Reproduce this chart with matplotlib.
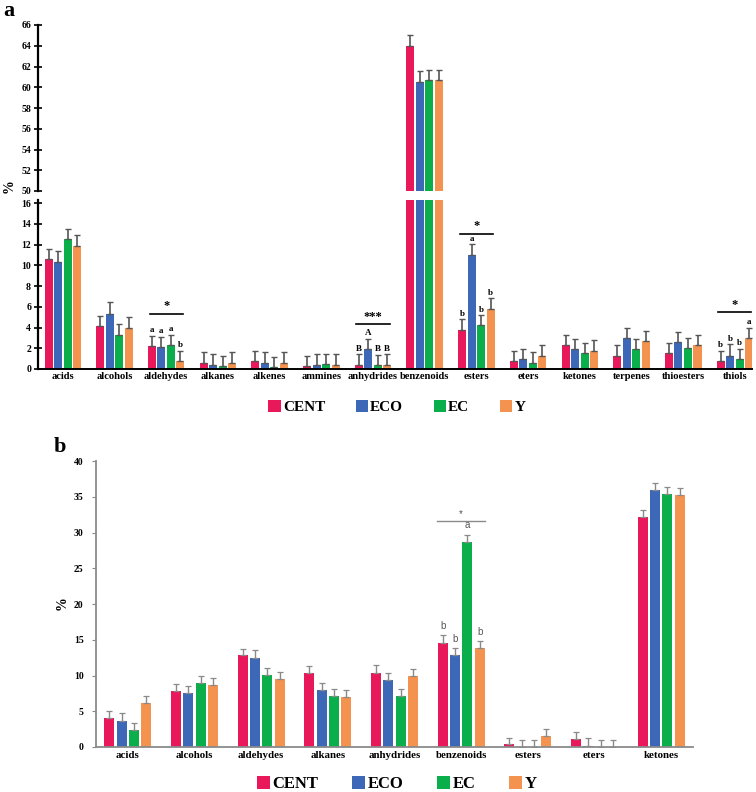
import matplotlib
matplotlib.use('Agg')
import matplotlib.pyplot as plt
import numpy as np
from matplotlib.patches import Patch

plt.rcParams['font.family'] = ['Liberation Serif', 'DejaVu Serif']

groups = ['CENT', 'ECO', 'EC', 'Y']
colors = ['#E8185A', '#3D68B8', '#0AAF4C', '#F4924F']

# ---------------- panel a data ----------------
cats_a = ['acids', 'alcohols', 'aldehydes', 'alkanes', 'alkenes', 'ammines', 'anhydrides',
          'benzenoids', 'esters', 'eters', 'ketones', 'terpenes', 'thioesters', 'thiols']
a_cent = [10.6, 4.1, 2.2, 0.6, 0.75, 0.3, 0.4, 64.0, 3.8, 0.75, 2.3, 1.3, 1.55, 0.75]
a_eco = [10.3, 5.35, 2.1, 0.4, 0.6, 0.4, 1.9, 60.5, 10.95, 0.95, 1.9, 3.0, 2.6, 1.3]
a_ec = [12.5, 3.3, 2.3, 0.3, 0.2, 0.5, 0.35, 60.7, 4.2, 0.6, 1.5, 1.9, 2.0, 0.95]
a_y = [11.9, 4.0, 0.75, 0.6, 0.6, 0.4, 0.4, 60.7, 5.8, 1.3, 1.75, 2.7, 2.3, 3.0]
a_cent_err = [1.0, 1.0, 1.0, 1.0, 1.0, 1.0, 1.0, 1.0, 1.0, 1.0, 1.0, 1.0, 1.0, 1.0]
a_eco_err = [1.1, 1.15, 1.0, 1.0, 1.0, 1.0, 1.0, 1.1, 1.1, 1.0, 0.95, 1.0, 1.0, 1.1]
a_ec_err = [1.0, 1.0, 1.0, 1.0, 1.0, 0.9, 1.0, 1.0, 1.0, 1.0, 1.0, 1.0, 1.0, 1.0]
a_y_err = [1.0, 1.0, 1.0, 1.0, 1.0, 1.0, 1.0, 1.0, 1.0, 1.0, 1.0, 1.0, 1.0, 0.95]

# significance annotations for panel a: category index, stars, letters, line height
sig_a_idx = [2, 6, 8, 13]
sig_a_stars = ['*', '***', '*', '*']
sig_a_letters = [['a', 'a', 'a', 'b'], ['B', 'A', 'B', 'B'], ['b', 'a', 'b', 'b'], ['b', 'b', 'b', 'a']]
sig_a_line = [5.3, 4.3, 13.05, 5.45]

# ---------------- panel b data ----------------
cats_b = ['acids', 'alcohols', 'aldehydes', 'alkanes', 'anhydrides', 'benzenoids',
          'esters', 'eters', 'ketones']
b_cent = [4.1, 7.9, 12.8, 10.4, 10.4, 14.6, 0.35, 1.05, 32.1]
b_eco = [3.7, 7.6, 12.4, 8.0, 9.35, 12.8, 0.0, 0.1, 35.9]
b_ec = [2.4, 8.9, 10.1, 7.1, 7.1, 28.7, 0.0, 0.0, 35.4]
b_y = [6.2, 8.7, 9.5, 7.0, 9.9, 13.8, 1.5, 0.0, 35.2]
b_cent_err = [1.0, 0.95, 0.95, 0.9, 1.0, 1.0, 0.95, 1.0, 1.0]
b_eco_err = [1.0, 1.0, 1.1, 1.0, 1.05, 1.0, 0.93, 1.1, 1.05]
b_ec_err = [1.0, 1.0, 1.0, 1.05, 1.05, 1.0, 0.93, 0.93, 0.95]
b_y_err = [1.0, 1.0, 1.05, 0.95, 1.0, 1.0, 1.0, 0.93, 1.0]

sig_b_idx = [5]
sig_b_stars = ['*']
sig_b_letters = [['b', 'b', 'a', 'b']]
sig_b_line = [31.6]

W, H = 756, 792
fig = plt.figure(figsize=(W / 100, H / 100), dpi=100)


def px_axes(left, top, right, bottom):
    return fig.add_axes([left / W, 1 - bottom / H, (right - left) / W, (bottom - top) / H])


vals_a = [a_cent, a_eco, a_ec, a_y]
errs_a = [a_cent_err, a_eco_err, a_ec_err, a_y_err]
vals_b = [b_cent, b_eco, b_ec, b_y]
errs_b = [b_cent_err, b_eco_err, b_ec_err, b_y_err]

# ---------------- panel a ----------------
ax_top = px_axes(38, 25, 752, 191)
ax_bot = px_axes(38, 200, 752, 369)
xa = np.arange(len(cats_a))
step_a, width_a = 0.184, 0.155
for ax in (ax_top, ax_bot):
    for g in range(4):
        ax.bar(xa + (g - 1.5) * step_a, vals_a[g], width_a, color=colors[g],
               yerr=[np.zeros(len(xa)), errs_a[g]], ecolor='#555555',
               error_kw=dict(elinewidth=1.2, capsize=2, capthick=1.0), zorder=2)
    ax.set_xlim(-0.48, 13.33)
    for s in ('top', 'right'):
        ax.spines[s].set_visible(False)
    ax.spines['left'].set_linewidth(1.6)
    ax.tick_params(axis='y', direction='inout', length=6, width=1.2, labelsize=7, pad=2)

ax_top.set_ylim(50, 66)
ax_top.set_yticks(np.arange(50, 67, 2))
ax_top.spines['bottom'].set_visible(False)
ax_top.set_xticks([])
ax_bot.set_ylim(0, 16.3)
ax_bot.set_yticks(np.arange(0, 17, 2))
ax_bot.spines['bottom'].set_linewidth(1.4)
ax_bot.set_xticks(xa)
ax_bot.set_xticklabels(cats_a, fontsize=7.6, fontweight='bold')
ax_bot.tick_params(axis='x', length=0, pad=2)
for ax in (ax_top, ax_bot):
    for lab in ax.get_yticklabels():
        lab.set_fontweight('bold')

for idx, st, lets, ly in zip(sig_a_idx, sig_a_stars, sig_a_letters, sig_a_line):
    for g in range(4):
        top = vals_a[g][idx] + errs_a[g][idx]
        ax_bot.text(idx + (g - 1.5) * step_a, top + 0.15, lets[g], ha='center', va='bottom',
                    fontsize=6.5, fontweight='bold')
    ax_bot.plot([idx - 0.32, idx + 0.32], [ly, ly], color='black', lw=1.2)
    ax_bot.text(idx, ly + 0.15, st, ha='center', va='bottom', fontsize=9, fontweight='bold')

fig.text(9 / W, 1 - 1 / H, 'a', fontsize=16, fontweight='bold', ha='center', va='top')
fig.text(9 / W, 1 - 186 / H, '%', fontsize=10, fontweight='bold', rotation=90,
         ha='center', va='center')

handles = [Patch(facecolor=c, edgecolor='none') for c in colors]
fig.legend(handles, groups, loc='center', bbox_to_anchor=(0.525, 1 - 407 / H), ncol=4,
           frameon=False, prop=dict(family='Liberation Serif', weight='bold', size=11),
           handlelength=0.8, handleheight=0.8, handletextpad=0.15, columnspacing=2.0)

# ---------------- panel b ----------------
axb = px_axes(96, 461, 693, 747)
xb = np.arange(len(cats_b))
step_b, width_b = 0.185, 0.15
for g in range(4):
    axb.bar(xb + (g - 1.5) * step_b, vals_b[g], width_b, color=colors[g],
            yerr=[np.zeros(len(xb)), errs_b[g]], ecolor='#8a8a8a',
            error_kw=dict(elinewidth=1.0, capsize=2, capthick=0.9), zorder=2)
axb.set_xlim(-0.48, 8.48)
axb.set_ylim(0, 40)
axb.set_yticks(np.arange(0, 41, 5))
for s in ('top', 'right'):
    axb.spines[s].set_visible(False)
for s in ('left', 'bottom'):
    axb.spines[s].set_color('#8a8a8a')
    axb.spines[s].set_linewidth(1.3)
axb.tick_params(axis='y', direction='out', length=3, width=0.8, color='#8a8a8a',
                labelsize=7, pad=6)
axb.set_xticks(xb)
axb.set_xticklabels(cats_b, fontsize=7.8, fontweight='bold')
axb.tick_params(axis='x', length=0, pad=3)
for lab in axb.get_yticklabels():
    lab.set_fontweight('bold')

for idx, st, lets, ly in zip(sig_b_idx, sig_b_stars, sig_b_letters, sig_b_line):
    for g in range(4):
        top = vals_b[g][idx] + errs_b[g][idx]
        axb.text(idx + (g - 1.5) * step_b, top + 0.6, lets[g], ha='center', va='bottom',
                 fontsize=7, family='Liberation Sans', color='#555555')
    axb.plot([idx - 0.36, idx + 0.36], [ly, ly], color='#8a8a8a', lw=1.0)
    axb.text(idx, ly + 0.3, st, ha='center', va='bottom', fontsize=7,
             family='Liberation Sans', color='#555555')

fig.text(60 / W, 1 - 447 / H, 'b', fontsize=16, fontweight='bold', ha='center', va='center')
fig.text(62 / W, 1 - 603 / H, '%', fontsize=10, fontweight='bold', rotation=90,
         ha='center', va='center')

fig.legend(handles, groups, loc='center', bbox_to_anchor=(0.525, 1 - 784 / H), ncol=4,
           frameon=False, prop=dict(family='Liberation Serif', weight='bold', size=12),
           handlelength=0.8, handleheight=0.8, handletextpad=0.15, columnspacing=2.0)

fig.savefig('out.png', dpi=100)
